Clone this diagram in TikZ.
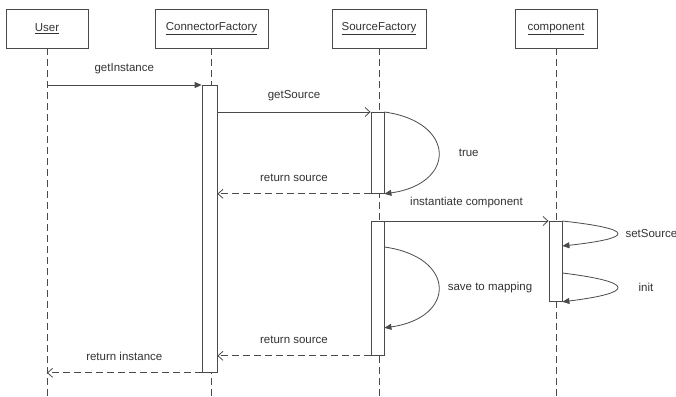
\documentclass[tikz,border=0pt]{standalone}
\usepackage{fontspec}
\setmainfont{Liberation Sans}
\usetikzlibrary{arrows.meta}
\definecolor{ln}{HTML}{4A4A4A}
\definecolor{txt}{HTML}{333333}
\begin{document}
\begin{tikzpicture}[x=1pt,y=-1pt,
  every node/.style={font=\fontsize{11.5}{13}\selectfont, text=txt},
  head/.style={draw=ln, line width=0.8pt, minimum height=39pt, inner sep=0pt},
  life/.style={draw=ln, line width=0.8pt, dash pattern=on 7pt off 4pt},
  bar/.style={draw=ln, fill=white, line width=0.8pt, inner sep=0pt, anchor=north},
  msg/.style={draw=ln, line width=0.8pt},
  ret/.style={msg, dash pattern=on 7pt off 4pt, -{Straight Barb[length=5pt,width=9pt]}},
  call/.style={msg, -{Straight Barb[length=5pt,width=9pt]}},
  sync/.style={msg, -{Triangle[length=7pt,width=6pt]}},
  lbl/.style={midway, yshift=16pt, inner sep=1pt},
  slbl/.style={pos=0.5, anchor=west, inner sep=1pt}
]
\useasboundingbox (0,0) rectangle (676,396);
\fill[white] (0,0) rectangle (676,396);
\coordinate (bot) at (0,396);
% heads
\node[head, minimum width=82pt] (user) at (47,28.5) {\underline{User}};
\node[head, minimum width=113pt] (cf) at (211.5,28.5) {\underline{ConnectorFactory}};
\node[head, minimum width=94pt] (sf) at (379,28.5) {\underline{SourceFactory}};
\node[head, minimum width=82pt] (comp) at (556,28.5) {\underline{component}};
% lifelines
\draw[life] (user.south) -- (user.south |- bot);
\draw[life] (cf.south) -- (cf.south |- bot);
\draw[life] (sf.south) -- (sf.south |- bot);
\draw[life] (comp.south) -- (comp.south |- bot);
% activation bars
\node[bar, minimum width=15pt, minimum height=287pt] (a1) at (209.5,85) {};
\node[bar, minimum width=13pt, minimum height=81pt] (a2) at (377.5,112) {};
\node[bar, minimum width=13pt, minimum height=134pt] (a3) at (377.5,221) {};
\node[bar, minimum width=13pt, minimum height=80pt] (a4) at (555.5,221) {};
% messages
\draw[sync] (user.south |- a1.north west) -- (a1.north west) node[lbl] {getInstance};
\draw[call] (a2.north west -| a1.east) -- (a2.north west) node[lbl] {getSource};
\draw[sync] (a2.north east) .. controls +(72,10) and +(72,-10) .. (a2.south east)
  node[slbl, xshift=19pt] {true};
\draw[ret] (a2.south west) -- (a2.south west -| a1.east) node[lbl] {return source};
\draw[call] (a3.north east) -- (a4.north west) node[lbl, yshift=2pt] {instantiate component};
\draw[sync] (a4.north east) .. controls +(73,8) and +(73,-8) .. ([yshift=-25pt]a4.north east)
  node[slbl, xshift=7pt] {setSource};
\draw[sync] ([yshift=-52pt]a4.north east) .. controls +(73,9) and +(73,-9) .. (a4.south east)
  node[slbl, xshift=20pt] {init};
\draw[sync] ([yshift=-26pt]a3.north east) .. controls +(72,10) and +(72,-10) .. ([yshift=28pt]a3.south east)
  node[slbl, xshift=8pt] {save to mapping};
\draw[ret] (a3.south west) -- (a3.south west -| a1.east) node[lbl] {return source};
\draw[ret] (a1.south west) -- (a1.south west -| user.south) node[lbl] {return instance};
\end{tikzpicture}
\end{document}
